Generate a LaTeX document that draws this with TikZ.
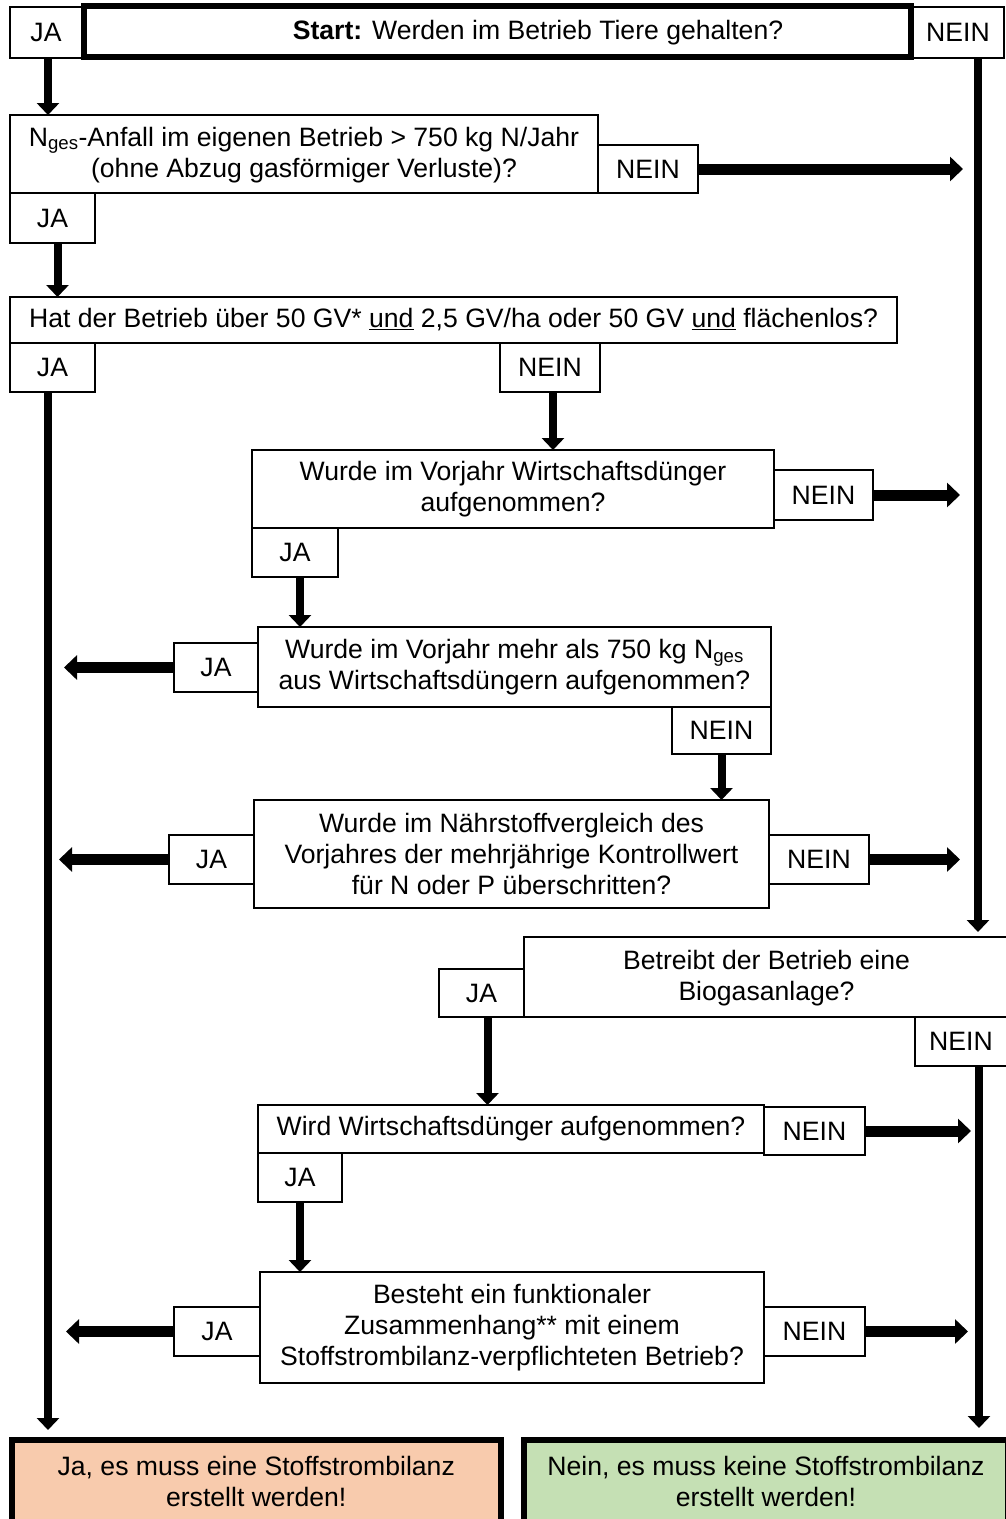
\documentclass[tikz,border=0pt]{standalone}
\usepackage{fontspec}
\setmainfont{Liberation Sans}
\usetikzlibrary{arrows.meta}
\definecolor{peach}{HTML}{F8CBAD}
\definecolor{lgreen}{HTML}{C5E0B4}
\begin{document}
\begin{tikzpicture}[x=1pt,y=-1pt,
  every node/.style={inner sep=0pt, outer sep=0pt, align=center,
    font=\fontsize{26.6}{31}\selectfont},
  box/.style={draw, line width=1.5pt, fill=white},
  thickbox/.style={draw, line width=6pt},
  varrow/.style={line width=8pt, -{Triangle[width=22pt,length=12pt]}},
  harrow/.style={line width=11pt, -{Triangle[width=24pt,length=13pt]}}]
\useasboundingbox (0,0) rectangle (1005,1519);
\fill[white] (0,0) rectangle (1005,1519);

% --- boxes ---
\node[box, minimum width=72pt, minimum height=51pt] (ja1) at (46,32.5) {JA};
\node[box, minimum width=92pt, minimum height=51pt] (nein1) at (958,32.5) {NEIN};
\node[thickbox, fill=white, minimum width=827pt, minimum height=51.5pt] (start) at (497.5,31.25) {};
\node (starttxt) at (538,33) {\textbf{Start:} Werden im Betrieb Tiere gehalten?};

\node[box, minimum width=588pt, minimum height=78pt, text depth=4pt] (box2) at (304,154)
  {N\textsubscript{ges}-Anfall im eigenen Betrieb > 750 kg N/Jahr\\(ohne Abzug gasförmiger Verluste)?};
\node[box, minimum width=100pt, minimum height=48pt] (nein2) at (648,169) {NEIN};
\node[box, minimum width=85pt, minimum height=50pt] (ja2) at (52.5,218) {JA};

\node[box, minimum width=887pt, minimum height=46pt] (box3) at (453.5,320)
  {Hat der Betrieb über 50 GV* \underline{und} 2,5 GV/ha oder 50 GV \underline{und} flächenlos?};
\node[box, minimum width=85pt, minimum height=49pt] (ja3) at (52.5,367.5) {JA};
\node[box, minimum width=100pt, minimum height=49pt] (nein3) at (550,367.5) {NEIN};

\node[box, minimum width=522pt, minimum height=78pt] (box4) at (513,489)
  {Wurde im Vorjahr Wirtschaftsdünger\\aufgenommen?};
\node[box, minimum width=99pt, minimum height=50pt] (nein4) at (823.5,495) {NEIN};
\node[box, minimum width=86pt, minimum height=49pt] (ja4) at (295,552.5) {JA};

\node[box, minimum width=513pt, minimum height=80pt] (box5) at (514.5,667)
  {Wurde im Vorjahr mehr als 750 kg N\textsubscript{ges}\\aus Wirtschaftsdüngern aufgenommen?};
\node[box, minimum width=84pt, minimum height=49pt] (ja5) at (216,667.5) {JA};
\node[box, minimum width=99pt, minimum height=47pt] (nein5) at (721.5,730.5) {NEIN};

\node[box, minimum width=515pt, minimum height=108pt] (box6) at (511.5,854)
  {Wurde im Nährstoffvergleich des\\Vorjahres der mehrjährige Kontrollwert\\für N oder P überschritten?};
\node[box, minimum width=85pt, minimum height=49pt] (ja6) at (211.5,859.5) {JA};
\node[box, minimum width=100pt, minimum height=49pt] (nein6) at (819,859.5) {NEIN};

\node[box, minimum width=485pt, minimum height=80pt, text depth=4pt] (bio) at (766.5,977)
  {Betreibt der Betrieb eine\\Biogasanlage?};
\node[box, minimum width=85pt, minimum height=48pt] (ja7) at (481.5,993) {JA};
\node[box, minimum width=92pt, minimum height=49pt] (nein7) at (961,1041.5) {NEIN};

\node[box, minimum width=506pt, minimum height=48pt] (box8) at (511,1129)
  {Wird Wirtschaftsdünger aufgenommen?};
\node[box, minimum width=101pt, minimum height=48pt] (nein8) at (814.5,1131) {NEIN};
\node[box, minimum width=84pt, minimum height=49pt] (ja8) at (300,1177.5) {JA};

\node[box, minimum width=504pt, minimum height=111pt] (box9) at (512,1327.5)
  {Besteht ein funktionaler\\Zusammenhang** mit einem\\Stoffstrombilanz-verpflichteten Betrieb?};
\node[box, minimum width=86pt, minimum height=49pt] (ja9) at (217,1331.5) {JA};
\node[box, minimum width=101pt, minimum height=49pt] (nein9) at (814.5,1331.5) {NEIN};

\node[thickbox, fill=peach, minimum width=489.5pt, minimum height=84.5pt] (resja) at (256.25,1481.75)
  {Ja, es muss eine Stoffstrombilanz\\erstellt werden!};
\node[thickbox, fill=lgreen, minimum width=484pt, minimum height=84.5pt] (resnein) at (766,1481.75)
  {Nein, es muss keine Stoffstrombilanz\\erstellt werden!};

% --- line coordinates ---
\coordinate (L) at (48,392);
\coordinate (Rtop) at (978,58);
\coordinate (Rlow) at (979,1066);

% --- connectors ---
\draw[varrow] ([xshift=2pt]ja1.south) -- ([xshift=2pt]ja1.south |- box2.north);
\draw[harrow, shorten >=15pt] (nein2.east) -- (Rtop |- nein2.east);
\draw[varrow] ([xshift=5pt]ja2.south) -- ([xshift=5pt]ja2.south |- box3.north);
\draw[varrow] ([xshift=3pt]nein3.south) -- ([xshift=3pt]nein3.south |- box4.north);
\draw[harrow, shorten >=18pt] (nein4.east) -- (Rtop |- nein4.east);
\draw[varrow] ([xshift=5pt]ja4.south) -- ([xshift=5pt]ja4.south |- box5.north);
\draw[harrow, shorten >=16pt] (ja5.west) -- (L |- ja5.west);
\draw[varrow] (nein5.south) -- (nein5.south |- box6.north);
\draw[harrow, shorten >=11pt] (ja6.west) -- (L |- ja6.west);
\draw[harrow, shorten >=18pt] (nein6.east) -- (Rtop |- nein6.east);
\draw[varrow, shorten >=5pt] (Rtop) -- (Rtop |- bio.north);
\draw[varrow] ([xshift=6pt]ja7.south) -- ([xshift=6pt]ja7.south |- box8.north);
\draw[harrow, shorten >=8pt] (nein8.east) -- (Rlow |- nein8.east);
\draw[varrow] (ja8.south) -- (ja8.south |- box9.north);
\draw[harrow, shorten >=18pt] (ja9.west) -- (L |- ja9.west);
\draw[harrow, shorten >=11pt] (nein9.east) -- (Rlow |- nein9.east);
\draw[varrow, shorten >=9.5pt] (L) -- (L |- resja.north);
\draw[varrow, shorten >=11.5pt] (Rlow) -- (Rlow |- resnein.north);
\end{tikzpicture}
\end{document}
